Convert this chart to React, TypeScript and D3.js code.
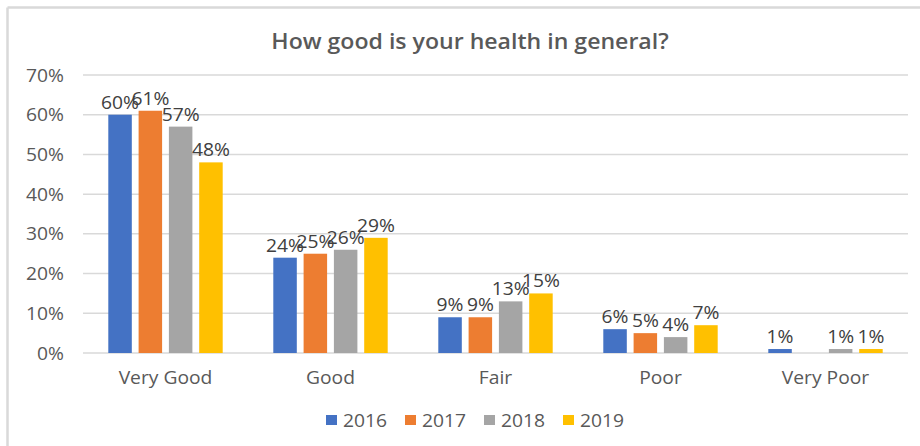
import React from "react";
import * as d3 from "d3";

const categories = ["Very Good", "Good", "Fair", "Poor", "Very Poor"];
const years = ["2016", "2017", "2018", "2019"];
const v2016 = [60, 24, 9, 6, 1];
const v2017 = [61, 25, 9, 5, 0];
const v2018 = [57, 26, 13, 4, 1];
const v2019 = [48, 29, 15, 7, 1];
const seriesValues = [v2016, v2017, v2018, v2019];
const colors = ["#4472C4", "#ED7D31", "#A5A5A5", "#FFC000"];
const yTicks = [0, 10, 20, 30, 40, 50, 60, 70];

const W = 920;
const H = 446;
const FONT = "'Open Sans', sans-serif";

function T(props: {
  x: number;
  y: number;
  sx?: number;
  size: number;
  anchor?: "start" | "middle" | "end";
  fill: string;
  weight?: number;
  children: React.ReactNode;
}) {
  const { x, y, sx = 1.07, size, anchor = "start", fill, weight = 400, children } = props;
  return (
    <text
      transform={`translate(${x},${y}) scale(${sx},1)`}
      textAnchor={anchor}
      fontSize={size}
      fontWeight={weight}
      fill={fill}
    >
      {children}
    </text>
  );
}

export default function App() {
  const y = d3.scaleLinear().domain([0, 70]).range([353, 75]);
  const x = d3.scaleBand<string>().domain(categories).range([83, 908]).padding(0);
  const step = 30.3;
  const bw = 23.5;
  const inner = d3
    .scaleLinear()
    .domain([0, 3])
    .range([-1.5 * step, 1.5 * step]);

  return (
    <svg
      width={W}
      height={H}
      style={{ position: "fixed", left: 0, top: 0, background: "#fff" }}
      fontFamily={FONT}
    >
      <rect x={0} y={0} width={W} height={H} fill="#fff" />
      <line x1={7.5} y1={7.5} x2={W} y2={7.5} stroke="#d9d9d9" strokeWidth={2.5} />
      <line x1={7.5} y1={7.5} x2={7.5} y2={H} stroke="#d9d9d9" strokeWidth={2.5} />

      <T x={470} y={49} anchor="middle" size={21} weight={600} sx={1.1} fill="#595959">
        How good is your health in general?
      </T>

      {yTicks.map((t) => (
        <g key={t}>
          <line
            x1={83}
            x2={908}
            y1={y(t)}
            y2={y(t)}
            stroke="#d9d9d9"
            strokeWidth={1.5}
          />
          <T x={64} y={y(t) + 6.5} anchor="end" size={18} fill="#595959">
            {t}%
          </T>
        </g>
      ))}

      {categories.map((c, ci) => {
        const cx = (x(c) as number) + x.bandwidth() / 2;
        return (
          <g key={c}>
            {seriesValues.map((vals, si) => {
              const v = vals[ci];
              if (!v) return null;
              const bx = cx + inner(si);
              return (
                <g key={si}>
                  <rect
                    x={bx - bw / 2}
                    y={y(v)}
                    width={bw}
                    height={y(0) - y(v)}
                    fill={colors[si]}
                  />
                  <T x={bx} y={y(v) - 6} anchor="middle" size={18} fill="#404040">
                    {v}%
                  </T>
                </g>
              );
            })}
            <T x={cx} y={384} anchor="middle" size={18} fill="#595959">
              {c}
            </T>
          </g>
        );
      })}

      {years.map((yr, i) => {
        const lx = 326 + i * 79;
        return (
          <g key={yr}>
            <rect x={lx} y={415} width={11} height={10} fill={colors[i]} />
            <T x={lx + 17} y={426.5} size={18} fill="#595959">
              {yr}
            </T>
          </g>
        );
      })}
    </svg>
  );
}
